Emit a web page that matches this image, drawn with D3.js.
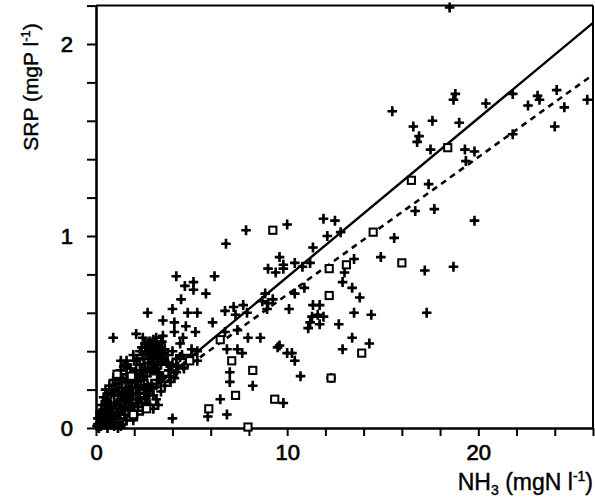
<!DOCTYPE html>
<html>
<head>
<meta charset="utf-8">
<script src="https://cdn.jsdelivr.net/npm/d3@7"></script>
<style>
  body { margin: 0; background: #fff; }
  svg { display: block; }
</style>
</head>
<body>
<svg id="chart" width="595" height="502"></svg>
<script>
// ---- data (NH3 mgN/l, SRP mgP/l) ----
const xTicks = [0, 2, 4, 6, 8, 10, 12, 14, 16, 18, 20, 22, 24, 26];
const yTicks = [0, 0.2, 0.4, 0.6, 0.8, 1.0, 1.2, 1.4, 1.6, 1.8, 2.0, 2.2];
const xTickLabels = [0, 10, 20];
const yTickLabels = [0, 1, 2];

const crossPoints = [
  [18.5, 2.19], [15.5, 1.65], [18.8, 1.74], [18.7, 1.71], [20.4, 1.69], [21.8, 1.74],
  [22.6, 1.68], [23.1, 1.73], [23.2, 1.71], [24.1, 1.76], [24.5, 1.67], [25.7, 1.71],
  [24.0, 1.57], [16.6, 1.57], [16.9, 1.52], [16.8, 1.49], [17.6, 1.60], [19.0, 1.59],
  [17.5, 1.45], [19.3, 1.45], [19.8, 1.44], [19.35, 1.39], [21.8, 1.53], [17.4, 1.27],
  [16.7, 1.13], [17.7, 1.14], [19.8, 1.08], [10.0, 1.06], [11.9, 1.09], [12.5, 1.08],
  [12.1, 1.00], [12.8, 1.02], [11.35, 0.94], [15.6, 0.99], [14.9, 0.89], [17.2, 0.82],
  [18.7, 0.84], [17.3, 0.60], [9.8, 0.85], [10.4, 0.86], [10.8, 0.84], [11.2, 0.86],
  [13.5, 0.88], [13.0, 0.81], [12.9, 0.76], [13.4, 0.73], [13.8, 0.68], [10.9, 0.73],
  [10.4, 0.70], [10.1, 0.62], [11.35, 0.64], [11.7, 0.64], [11.3, 0.58], [11.6, 0.59],
  [11.9, 0.58], [11.2, 0.55], [11.7, 0.54], [11.1, 0.52], [13.5, 0.60], [14.4, 0.59],
  [12.7, 0.54], [13.4, 0.47], [14.3, 0.44], [12.9, 0.41], [10.25, 0.39], [10.4, 0.35],
  [9.6, 0.43], [10.7, 0.27], [12.3, 0.26], [9.8, 0.13],
  [7.85, 1.03], [6.8, 0.96], [9.6, 0.89], [9.0, 0.83], [9.4, 0.81], [9.8, 0.83],
  [4.2, 0.79], [6.2, 0.79], [4.65, 0.74], [5.1, 0.76], [5.1, 0.72], [5.75, 0.70],
  [4.45, 0.67], [4.0, 0.62], [4.8, 0.60], [5.3, 0.60], [3.5, 0.56], [4.1, 0.55],
  [4.1, 0.50], [4.7, 0.53], [5.2, 0.50], [6.1, 0.55], [3.5, 0.48], [4.4, 0.44],
  [2.7, 0.60], [0.9, 0.47], [2.1, 0.49], [2.45, 0.47], [4.55, 0.47], [1.3, 0.35],
  [1.6, 0.35], [3.25, 0.29], [3.9, 0.24], [2.6, 0.21], [6.75, 0.61], [7.2, 0.63],
  [7.7, 0.64], [7.3, 0.59], [7.9, 0.60], [8.85, 0.70], [8.7, 0.66], [9.0, 0.65],
  [7.95, 0.47], [8.6, 0.47], [9.5, 0.42], [10.0, 0.39], [7.4, 0.41], [7.0, 0.29],
  [7.0, 0.24], [8.2, 0.22], [6.5, 0.15], [6.85, 0.07], [5.85, 0.06], [4.0, 0.05],
  [3.25, 0.12], [3.0, 0.10], [3.1, 0.43], [2.45, 0.38], [3.2, 0.39], [4.0, 0.40],
  [6.75, 0.50], [7.4, 0.51], [6.85, 0.41], [7.65, 0.39], [9.25, 0.67], [8.95, 0.62],
  // dense cluster near the origin
  [0.05, 0.01], [0.1, 0.02], [0.15, 0.0], [0.2, 0.03], [0.25, 0.01], [0.3, 0.05],
  [0.35, 0.02], [0.4, 0.04], [0.45, 0.07], [0.5, 0.03], [0.55, 0.06], [0.6, 0.09],
  [0.65, 0.02], [0.7, 0.05], [0.75, 0.08], [0.8, 0.11], [0.85, 0.04], [0.9, 0.07],
  [0.95, 0.13], [1.0, 0.06], [1.05, 0.10], [1.1, 0.03], [1.15, 0.08], [1.2, 0.12],
  [1.25, 0.05], [1.3, 0.15], [1.35, 0.09], [1.4, 0.02], [1.45, 0.11], [1.5, 0.07],
  [1.55, 0.14], [1.6, 0.04], [1.7, 0.10], [1.75, 0.17], [1.8, 0.06], [1.9, 0.12],
  [2.0, 0.09], [2.1, 0.15], [2.2, 0.11], [2.3, 0.18], [2.4, 0.13], [2.5, 0.20],
  [2.6, 0.16], [2.8, 0.19], [2.9, 0.23], [3.0, 0.21], [3.2, 0.25], [3.4, 0.24],
  [0.3, 0.12], [0.4, 0.16], [0.5, 0.20], [0.6, 0.14], [0.7, 0.22], [0.8, 0.18],
  [0.9, 0.25], [1.0, 0.20], [1.1, 0.28], [1.2, 0.23], [1.3, 0.30], [1.4, 0.26],
  [1.5, 0.33], [1.6, 0.28], [1.7, 0.24], [1.8, 0.31], [1.9, 0.27], [2.0, 0.35],
  [2.1, 0.30], [2.2, 0.25], [2.3, 0.33], [2.4, 0.42], [2.5, 0.36], [2.6, 0.40],
  [2.7, 0.44], [2.8, 0.38], [2.9, 0.42], [3.0, 0.46], [3.1, 0.40], [3.3, 0.37],
  [3.4, 0.44], [3.6, 0.41], [3.7, 0.34], [3.8, 0.30], [4.0, 0.33], [4.2, 0.36],
  [4.5, 0.38], [4.8, 0.36], [5.0, 0.41], [5.3, 0.40],
  [2.5, 0.36], [2.6, 0.42], [2.7, 0.38], [2.8, 0.45], [2.9, 0.34], [3.0, 0.40],
  [3.1, 0.44], [3.2, 0.36], [3.3, 0.42], [3.4, 0.33], [3.5, 0.39], [2.7, 0.31],
  [3.0, 0.30], [3.3, 0.28], [3.6, 0.35],
  [1.7, 0.20], [1.9, 0.24], [2.1, 0.21], [2.3, 0.28], [2.5, 0.25], [2.7, 0.22],
  [2.2, 0.18], [1.8, 0.15], [2.4, 0.30], [2.0, 0.27],
  [4.4, 0.37], [4.8, 0.34], [4.2, 0.29], [3.9, 0.32], [4.6, 0.31], [5.0, 0.38],
  [5.3, 0.35], [2.2, 0.13], [2.6, 0.15], [3.0, 0.17], [3.4, 0.19], [3.6, 0.22],
  [2.8, 0.12],
  [0.2, 0.08], [0.3, 0.09], [0.45, 0.12], [0.55, 0.15], [0.65, 0.18], [0.75, 0.13],
  [0.85, 0.20], [0.95, 0.17], [1.05, 0.23], [1.15, 0.19], [1.25, 0.26], [1.35, 0.21],
  [1.45, 0.18], [1.55, 0.24], [1.65, 0.16], [1.85, 0.21], [1.95, 0.18], [2.05, 0.24],
  [2.15, 0.28], [2.35, 0.22], [2.45, 0.27], [2.55, 0.31], [2.65, 0.27], [2.75, 0.34],
  [2.85, 0.29], [2.95, 0.37], [3.05, 0.33], [3.15, 0.31], [3.25, 0.34], [3.35, 0.40],
  [3.45, 0.36], [2.55, 0.44], [2.85, 0.41], [3.15, 0.47], [3.45, 0.45], [3.75, 0.38],
  [1.15, 0.14], [1.35, 0.17], [1.55, 0.19], [1.75, 0.13], [0.35, 0.06], [0.55, 0.10],
  [0.75, 0.02], [0.95, 0.01], [1.15, 0.00], [1.3, 0.01], [0.2, 0.06], [0.1, 0.05],
  [0.6, 0.00], [1.95, 0.04], [2.45, 0.09], [2.15, 0.07], [2.65, 0.13], [3.15, 0.15],
  [3.5, 0.27], [3.85, 0.27], [4.3, 0.32], [4.1, 0.26], [1.45, 0.32], [1.65, 0.33],
  [1.95, 0.38], [2.15, 0.36], [2.3, 0.40]
];

const squarePoints = [
  [18.4, 1.46], [16.5, 1.29], [14.5, 1.02], [16.0, 0.86], [12.2, 0.83], [13.1, 0.85],
  [12.2, 0.69], [13.9, 0.39], [12.3, 0.26], [9.25, 1.03], [6.5, 0.46], [4.9, 0.35],
  [7.1, 0.35], [8.2, 0.30], [7.3, 0.17], [9.35, 0.15], [5.9, 0.10], [7.95, 0.005],
  [1.1, 0.28], [1.85, 0.27], [2.65, 0.10], [1.95, 0.07]
];

// regression lines: [x, y] end points
const solidLine = [[0.5, 0.0], [26, 2.11]];
const dashedLine = [[0.3, 0.0], [26, 1.84]];

// ---- drawing ----
const svg = d3.select("#chart");
const mLeft = 96, mRight = 593, mTop = 5.6, mBottom = 428;
const x = d3.scaleLinear().domain([0, 26]).range([mLeft, mRight]);
const y = d3.scaleLinear().domain([0, 2.2]).range([mBottom, mTop]);
const font = "'Liberation Sans', Arial, Helvetica, sans-serif";

// frame (top & right)
svg.append("line").attr("x1", x(0)).attr("x2", x(26)).attr("y1", y(2.2)).attr("y2", y(2.2))
  .attr("stroke", "#000").attr("stroke-width", 2);
svg.append("line").attr("x1", x(26)).attr("x2", x(26)).attr("y1", y(2.2)).attr("y2", y(0))
  .attr("stroke", "#000").attr("stroke-width", 2);

// axes
const xAxis = d3.axisBottom(x).tickValues(xTicks).tickSize(8).tickSizeOuter(0).tickPadding(8)
  .tickFormat(d => xTickLabels.includes(d) ? String(d) : "");
const yAxis = d3.axisLeft(y).tickValues(yTicks).tickSize(9).tickSizeOuter(0).tickPadding(14)
  .tickFormat(d => yTickLabels.some(v => Math.abs(v - d) < 1e-9) ? String(Math.round(d)) : "");

const gx = svg.append("g").attr("transform", `translate(0,${mBottom})`).call(xAxis);
const gy = svg.append("g").attr("transform", `translate(${mLeft},0)`).call(yAxis);
[gx, gy].forEach(g => {
  g.select(".domain").attr("stroke", "#000").attr("stroke-width", 2.6);
  g.selectAll(".tick line").attr("stroke", "#000").attr("stroke-width", 2);
  g.selectAll(".tick text").attr("fill", "#000").attr("font-family", font)
    .attr("font-size", 22).attr("stroke", "#000").attr("stroke-width", 0.7);
});

// lines
const lineGen = d3.line().x(d => x(d[0])).y(d => y(d[1]));
svg.append("path").datum(solidLine).attr("d", lineGen)
  .attr("fill", "none").attr("stroke", "#000").attr("stroke-width", 2.4);
svg.append("path").datum(dashedLine).attr("d", lineGen)
  .attr("fill", "none").attr("stroke", "#000").attr("stroke-width", 2.6)
  .attr("stroke-dasharray", "6,5");

// cross markers
const plusPath = "M-4.8,0H4.8M0,-5V5";
svg.append("g").selectAll("path.cross").data(crossPoints).join("path")
  .attr("class", "cross")
  .attr("transform", d => `translate(${x(d[0])},${y(d[1])})`)
  .attr("d", plusPath)
  .attr("stroke", "#000").attr("stroke-width", 2.6).attr("fill", "none");
svg.append("g").selectAll("rect.cross-core").data(crossPoints).join("rect")
  .attr("x", d => x(d[0]) - 2).attr("y", d => y(d[1]) - 2)
  .attr("width", 4).attr("height", 4)
  .attr("transform", d => `rotate(45,${x(d[0])},${y(d[1])})`)
  .attr("fill", "#000");

// square markers
svg.append("g").selectAll("rect.sq").data(squarePoints).join("rect")
  .attr("class", "sq")
  .attr("x", d => x(d[0]) - 3.6).attr("y", d => y(d[1]) - 3.6)
  .attr("width", 7.2).attr("height", 7.2)
  .attr("fill", "#fff").attr("stroke", "#000").attr("stroke-width", 2);

// axis titles
const yTitle = svg.append("text")
  .attr("transform", "translate(38,87) rotate(-90)")
  .attr("text-anchor", "middle")
  .attr("font-family", font).attr("font-size", 21).attr("fill", "#000")
  .attr("stroke", "#000").attr("stroke-width", 0.4);
yTitle.append("tspan").text("SRP (mgP l");
yTitle.append("tspan").attr("font-size", 13).attr("dy", -8).text("-1");
yTitle.append("tspan").attr("dy", 8).text(")");

const xTitle = svg.append("text")
  .attr("x", 593).attr("y", 490)
  .attr("text-anchor", "end")
  .attr("font-family", font).attr("font-size", 23).attr("fill", "#000")
  .attr("stroke", "#000").attr("stroke-width", 0.4);
xTitle.append("tspan").text("NH");
xTitle.append("tspan").attr("font-size", 14).attr("dy", 5).text("3");
xTitle.append("tspan").attr("dy", -5).text(" (mgN l");
xTitle.append("tspan").attr("font-size", 14).attr("dy", -9).text("-1");
xTitle.append("tspan").attr("dy", 9).text(")");
</script>
</body>
</html>
